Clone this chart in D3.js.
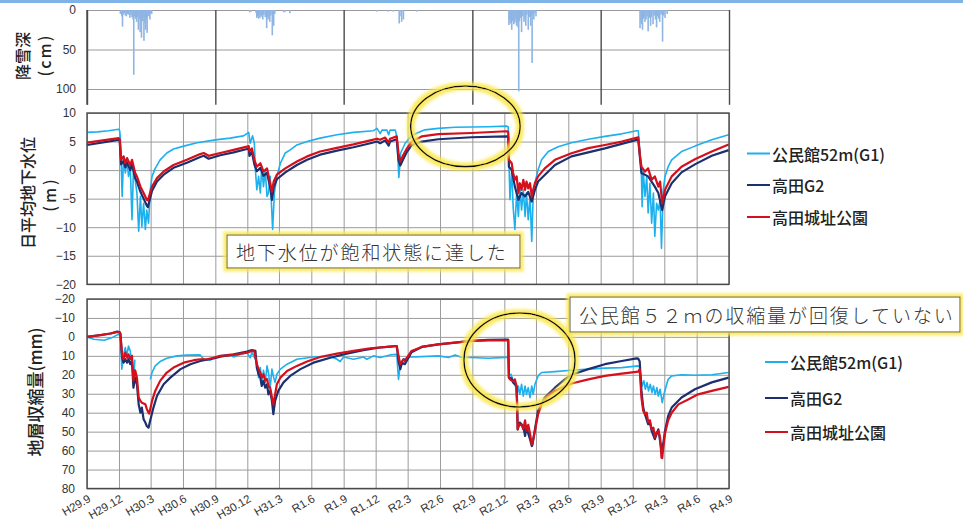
<!DOCTYPE html>
<html>
<head>
<meta charset="utf-8">
<script src="https://cdn.jsdelivr.net/npm/d3@7"></script>
<style>
  body { margin: 0; background: #fff; }
  svg { display: block; }
</style>
</head>
<body>
<svg id="chart" width="963" height="525"></svg>
<script>
// ---- data -------------------------------------------------------------
const xTickLabels = ["H29.9","H29.12","H30.3","H30.6","H30.9","H30.12","H31.3","R1.6","R1.9","R1.12",
  "R2.3","R2.6","R2.9","R2.12","R3.3","R3.6","R3.9","R3.12","R4.3","R4.6","R4.9"];
const seriesNames = ["公民館52m(G1)", "高田G2", "高田城址公園"];

// daily snowfall depth (cm), days with snow only
const snowDepth = [
  ["2017-12-05",5],["2017-12-07",3],["2017-12-09",8],["2017-12-11",21],["2017-12-13",6],["2017-12-16",4],
  ["2017-12-19",7],["2017-12-22",8],["2017-12-25",5],["2017-12-28",6],["2018-01-01",10],["2018-01-04",6],
  ["2018-01-07",9],["2018-01-10",12],["2018-01-12",82],["2018-01-14",8],["2018-01-17",11],["2018-01-20",15],
  ["2018-01-23",9],["2018-01-25",25],["2018-01-27",12],["2018-01-30",28],["2018-02-01",10],["2018-02-03",35],
  ["2018-02-06",14],["2018-02-08",9],["2018-02-10",39],["2018-02-12",16],["2018-02-15",25],["2018-02-17",11],
  ["2018-02-19",29],["2018-02-22",8],["2018-02-25",6],["2018-02-27",12],["2018-03-02",4],["2018-03-04",5],
  ["2018-12-08",3],["2018-12-12",2],["2018-12-26",4],["2018-12-28",10],["2018-12-30",8],["2019-01-02",11],
  ["2019-01-04",6],["2019-01-06",10],["2019-01-09",7],["2019-01-12",9],["2019-01-14",12],["2019-01-17",6],
  ["2019-01-21",9],["2019-01-25",23],["2019-01-27",8],["2019-01-29",12],["2019-02-01",9],["2019-02-03",15],
  ["2019-02-06",7],["2019-02-10",32],["2019-02-12",10],["2019-02-14",20],["2019-02-17",5],["2019-03-15",3],
  ["2019-03-20",2],["2019-04-01",4],
  ["2019-12-04",2],["2020-01-05",2],["2020-01-20",2],["2020-02-06",17],["2020-02-08",8],["2020-02-13",15],
  ["2020-02-18",12],["2020-03-27",2],
  ["2020-12-14",19],["2020-12-16",12],["2020-12-18",17],["2020-12-20",10],["2020-12-22",25],["2020-12-24",14],
  ["2020-12-26",9],["2020-12-28",18],["2020-12-31",16],["2021-01-03",12],["2021-01-05",20],["2021-01-07",15],
  ["2021-01-09",22],["2021-01-11",103],["2021-01-13",14],["2021-01-16",10],["2021-01-19",28],["2021-01-22",8],
  ["2021-01-26",15],["2021-01-29",11],["2021-01-31",20],["2021-02-03",6],["2021-02-07",25],["2021-02-10",9],
  ["2021-02-14",20],["2021-02-16",7],["2021-02-18",67],["2021-02-20",5],["2021-02-23",12],["2021-02-26",4],
  ["2021-03-01",8],
  ["2021-12-22",23],["2021-12-25",14],["2021-12-27",18],["2021-12-29",25],["2021-12-31",11],["2022-01-03",9],
  ["2022-01-05",15],["2022-01-08",12],["2022-01-11",8],["2022-01-14",27],["2022-01-17",10],["2022-01-21",20],
  ["2022-01-24",9],["2022-01-28",18],["2022-01-31",7],["2022-02-04",12],["2022-02-07",22],["2022-02-10",8],
  ["2022-02-13",11],["2022-02-16",15],["2022-02-20",6],["2022-02-24",40],["2022-02-27",7],["2022-03-03",10],
  ["2022-03-09",5]
];

// daily mean groundwater level (m)
const gwKominkan = [
  ["2017-09-01",6.6],["2017-10-01",6.7],["2017-11-01",6.9],["2017-11-30",7.15],["2017-12-03",6.9],["2017-12-05",5.6],
  ["2017-12-07",1.8],["2017-12-10",-4.6],["2017-12-14",2.4],["2017-12-19",-0.5],["2017-12-24",1.8],["2017-12-28",-1.1],
  ["2018-01-02",0.6],["2018-01-07",-8.7],["2018-01-11",0.0],["2018-01-16",-1.7],["2018-01-21",-4.0],["2018-01-26",-10.7],
  ["2018-01-31",-4.6],["2018-02-04",-9.9],["2018-02-09",-5.8],["2018-02-14",-10.4],["2018-02-18",-7.0],["2018-02-23",-9.3],
  ["2018-02-28",-3.45],["2018-03-05",-1.1],["2018-03-14",0.3],["2018-03-28",1.8],["2018-04-16",3.0],["2018-05-05",3.7],
  ["2018-06-03",4.2],["2018-07-11",4.8],["2018-09-01",5.3],["2018-10-13",5.6],["2018-11-20",6.0],["2018-12-05",6.6],
  ["2018-12-09",4.7],["2018-12-16",6.0],["2018-12-21",4.7],["2018-12-24",0.0],["2018-12-28",-3.45],["2019-01-02",-1.1],
  ["2019-01-07",-4.0],["2019-01-11",0.6],["2019-01-16",-2.9],["2019-01-21",0.0],["2019-01-26",-4.6],["2019-01-30",-4.0],
  ["2019-02-04",-1.1],["2019-02-11",-10.4],["2019-02-16",-4.0],["2019-02-23",-1.1],["2019-03-05",1.2],["2019-03-19",3.0],
  ["2019-04-02",3.55],["2019-04-21",4.4],["2019-05-20",5.0],["2019-06-26",5.6],["2019-08-13",6.2],["2019-09-29",6.6],
  ["2019-11-25",6.9],["2019-12-05",7.3],["2019-12-14",6.4],["2019-12-19",7.0],["2020-01-02",7.0],["2020-01-07",6.2],
  ["2020-01-11",7.0],["2020-01-26",7.0],["2020-01-30",5.9],["2020-02-05",-1.3],["2020-02-10",3.0],["2020-02-23",4.7],
  ["2020-03-12",6.0],["2020-03-31",6.6],["2020-04-19",7.05],["2020-05-27",7.3],["2020-07-14",7.5],["2020-10-16",7.6],
  ["2020-12-07",7.7],["2020-12-12",7.6],["2020-12-14",1.8],["2020-12-17",-5.2],["2020-12-22",0.05],["2020-12-26",-6.4],
  ["2020-12-31",-10.4],["2021-01-05",-4.0],["2021-01-10",-8.1],["2021-01-14",-2.9],["2021-01-19",-7.0],["2021-01-24",-3.45],
  ["2021-01-29",-8.1],["2021-02-02",-4.0],["2021-02-07",-8.7],["2021-02-12",-4.6],["2021-02-17",-12.5],["2021-02-21",-4.6],
  ["2021-02-26",-2.3],["2021-03-07",0.05],["2021-03-17",1.8],["2021-04-05",3.25],["2021-05-03",4.1],["2021-06-10",4.8],
  ["2021-07-28",5.4],["2021-09-13",5.9],["2021-10-31",6.35],["2021-12-12",6.9],["2021-12-17",6.9],["2021-12-21",3.55],
  ["2021-12-26",-1.1],["2021-12-28",-6.4],["2021-12-31",0.05],["2022-01-05",-4.6],["2022-01-10",-1.1],["2022-01-14",-7.5],
  ["2022-01-19",-2.3],["2022-01-24",-9.3],["2022-01-29",-4.0],["2022-02-02",-11.6],["2022-02-07",-5.8],["2022-02-12",-7.0],
  ["2022-02-17",-5.2],["2022-02-21",-13.7],["2022-02-26",-3.45],["2022-03-03",-1.1],["2022-03-12",0.6],["2022-03-22",1.8],
  ["2022-04-19",3.25],["2022-05-27",4.2],["2022-07-14",5.3],["2022-08-31",6.2]
];
const gwTakadaG2 = [
  ["2017-09-01",4.4],["2017-11-30",5.3],["2017-12-03",5.1],["2017-12-07",1.0],["2017-12-14",1.6],["2017-12-19",0.5],
  ["2017-12-24",1.3],["2018-01-02",0.0],["2018-01-07",1.0],["2018-01-16",-1.4],["2018-01-21",-2.0],["2018-01-31",-3.8],
  ["2018-02-09",-5.0],["2018-02-18",-6.2],["2018-02-21",-6.5],["2018-03-05",-3.6],["2018-03-19",-2.0],["2018-04-07",-0.8],
  ["2018-05-05",0.4],["2018-06-12",1.3],["2018-07-20",2.3],["2018-07-30",2.5],["2018-08-13",2.0],["2018-09-15",2.6],
  ["2018-10-23",3.1],["2018-11-30",3.7],["2018-12-05",3.8],["2018-12-07",2.5],["2018-12-14",3.2],["2018-12-21",1.0],
  ["2018-12-28",-0.2],["2019-01-07",0.4],["2019-01-16",-1.0],["2019-01-26",-0.5],["2019-02-04",-3.0],["2019-02-09",-5.2],
  ["2019-02-14",-3.0],["2019-02-23",-1.6],["2019-03-19",-0.4],["2019-04-21",0.9],["2019-05-20",1.8],["2019-06-26",2.7],
  ["2019-08-13",3.4],["2019-09-29",4.0],["2019-11-16",4.7],["2019-12-05",5.0],["2019-12-14",4.7],["2019-12-28",5.2],
  ["2020-01-07",4.3],["2020-01-11",5.0],["2020-01-30",5.4],["2020-02-04",1.8],["2020-02-09",0.8],["2020-02-18",2.0],
  ["2020-02-28",3.2],["2020-03-13",4.4],["2020-04-10",5.0],["2020-05-27",5.4],["2020-08-30",5.75],["2020-12-07",5.9],
  ["2020-12-12",5.85],["2020-12-14",0.6],["2020-12-22",0.05],["2020-12-31",-2.9],["2021-01-10",-5.2],["2021-01-19",-4.0],
  ["2021-01-29",-4.6],["2021-02-07",-3.8],["2021-02-17",-5.5],["2021-02-26",-3.45],["2021-03-07",-2.0],["2021-04-24",0.9],
  ["2021-06-10",2.4],["2021-09-13",3.8],["2021-12-12",5.3],["2021-12-17",5.2],["2021-12-26",-0.5],["2022-01-14",-1.1],
  ["2022-02-02",-2.9],["2022-02-12",-4.0],["2022-02-23",-7.0],["2022-03-03",-4.6],["2022-03-22",-2.3],["2022-04-19",-0.4],
  ["2022-05-27",1.0],["2022-07-14",2.5],["2022-08-31",3.5]
];
const gwCastlePark = [
  ["2017-09-01",4.8],["2017-11-30",5.6],["2017-12-03",5.4],["2017-12-07",1.8],["2017-12-14",2.4],["2017-12-19",1.2],
  ["2017-12-24",2.1],["2018-01-02",0.9],["2018-01-07",1.8],["2018-01-16",-0.5],["2018-01-21",-1.1],["2018-01-31",-2.9],
  ["2018-02-09",-4.0],["2018-02-18",-5.2],["2018-02-21",-5.3],["2018-03-05",-2.9],["2018-03-19",-1.4],["2018-04-07",-0.25],
  ["2018-05-05",0.9],["2018-06-12",1.8],["2018-07-20",2.8],["2018-07-30",3.0],["2018-08-13",2.5],["2018-09-15",3.0],
  ["2018-10-23",3.55],["2018-11-30",4.1],["2018-12-05",4.2],["2018-12-07",3.25],["2018-12-14",3.8],["2018-12-21",1.8],
  ["2018-12-28",0.6],["2019-01-07",1.2],["2019-01-16",-0.25],["2019-01-26",0.3],["2019-02-04",-2.3],["2019-02-09",-3.8],
  ["2019-02-14",-2.0],["2019-02-23",-0.8],["2019-03-19",0.3],["2019-04-21",1.5],["2019-05-20",2.4],["2019-06-26",3.25],
  ["2019-08-13",3.9],["2019-09-29",4.5],["2019-11-16",5.2],["2019-12-05",5.5],["2019-12-14",5.3],["2019-12-28",5.7],
  ["2020-01-07",4.8],["2020-01-11",5.5],["2020-01-30",5.9],["2020-02-04",2.96],["2020-02-09",1.5],["2020-02-18",2.7],
  ["2020-02-28",3.8],["2020-03-13",5.0],["2020-04-10",5.9],["2020-05-27",6.3],["2020-08-30",6.5],["2020-12-07",6.8],
  ["2020-12-12",6.7],["2020-12-14",1.8],["2020-12-22",1.2],["2020-12-26",-0.5],["2020-12-31",-1.7],["2021-01-05",-1.1],
  ["2021-01-10",-4.0],["2021-01-14",-2.3],["2021-01-19",-3.45],["2021-01-24",-1.7],["2021-01-29",-3.45],["2021-02-02",-2.0],
  ["2021-02-07",-3.2],["2021-02-12",-2.3],["2021-02-17",-4.6],["2021-02-21",-3.45],["2021-02-26",-2.3],["2021-03-07",-1.1],
  ["2021-03-26",0.3],["2021-04-24",1.8],["2021-06-10",2.96],["2021-07-28",3.84],["2021-09-13",4.4],["2021-10-31",5.0],
  ["2021-12-17",5.75],["2021-12-21",2.96],["2021-12-26",0.6],["2022-01-05",-0.25],["2022-01-14",0.3],["2022-01-24",-1.7],
  ["2022-02-02",-1.1],["2022-02-12",-2.9],["2022-02-17",-2.0],["2022-02-23",-5.8],["2022-03-03",-3.45],["2022-03-22",-1.1],
  ["2022-04-19",0.6],["2022-05-27",1.9],["2022-07-14",3.25],["2022-08-31",4.5]
];

// cumulative strata contraction (mm); null marks missing records
const subKominkan = [
  ["2017-09-01",0],["2017-09-20",1.2],["2017-10-20",1.8],["2017-11-10",0.5],["2017-12-01",-1.5],["2017-12-05",-0.5],
  ["2017-12-09",17],["2017-12-13",10],["2017-12-19",5.6],["2017-12-23",10],["2017-12-28",4.8],["2018-01-02",7.5],
  ["2018-01-07",14.4],["2018-01-12",23],["2018-01-15",12],["2018-01-20",null],
  ["2018-02-28",22.4],["2018-03-05",18.8],["2018-03-14",15.3],["2018-03-28",13],["2018-04-16",11.3],["2018-05-15",10],
  ["2018-06-12",9.6],["2018-07-20",9.5],["2018-07-30",11.8],["2018-08-18",12.3],["2018-08-27",11],["2018-09-15",10],
  ["2018-10-13",9.2],["2018-10-23",10.6],["2018-11-11",9.2],["2018-11-30",8.3],["2018-12-09",11],["2018-12-14",8.3],
  ["2018-12-24",11.8],["2018-12-28",14.4],["2019-01-02",21.5],["2019-01-07",16.2],["2019-01-11",25],["2019-01-16",17.6],
  ["2019-01-21",24],["2019-01-26",15.3],["2019-01-30",18.8],["2019-02-04",26.8],["2019-02-09",17],["2019-02-14",21.5],
  ["2019-02-18",24],["2019-02-23",19.7],["2019-03-05",17],["2019-03-24",14.4],["2019-04-21",11.8],["2019-06-07",10.6],
  ["2019-07-25",10.2],["2019-08-13",11.8],["2019-08-22",13],["2019-09-01",10.6],["2019-09-29",11.8],["2019-10-27",10.6],
  ["2019-11-06",11.8],["2019-11-25",10],["2019-12-14",10.9],["2020-01-11",9.5],["2020-01-30",9.2],["2020-02-04",22.4],
  ["2020-02-09",14.4],["2020-02-18",11.8],["2020-03-08",10.6],["2020-03-21",10.6],["2020-05-27",10],["2020-06-25",10.9],
  ["2020-07-14",9.5],["2020-08-02",10.9],["2020-08-30",10.9],["2020-10-16",11.3],["2020-12-07",10.8],["2020-12-12",10.8],
  ["2020-12-14",21.5],["2020-12-20",19.7],["2020-12-26",23.2],["2020-12-31",22.4],["2021-01-05",32],["2021-01-10",26],
  ["2021-01-14",30.3],["2021-01-19",25],["2021-01-24",31.2],["2021-01-29",25.9],["2021-02-02",30.3],["2021-02-07",26.8],
  ["2021-02-12",32],["2021-02-17",25.9],["2021-02-21",30.3],["2021-02-26",25],["2021-03-07",20.6],["2021-03-17",18.8],
  ["2021-04-24",18.3],["2021-06-10",17.6],["2021-07-28",17],["2021-09-13",16.5],["2021-10-31",16.2],["2021-12-17",15.3],
  ["2021-12-21",16.2],["2021-12-28",25.9],["2022-01-02",23.2],["2022-01-06",27.6],["2022-01-11",24.1],["2022-01-15",28.5],
  ["2022-01-20",25],["2022-01-25",29.4],["2022-01-29",25.9],["2022-02-03",30.3],["2022-02-08",26.8],["2022-02-12",31.2],
  ["2022-02-17",27.6],["2022-02-23",34.7],["2022-02-28",30.3],["2022-03-05",26.8],["2022-03-12",22.4],["2022-03-22",20.6],
  ["2022-04-19",20],["2022-05-27",20.2],["2022-07-14",20],["2022-08-31",18.8]
];
const subTakadaG2 = [
  ["2017-09-01",0],["2017-10-10",-1.0],["2017-11-07",-1.8],["2017-11-26",-2.8],["2017-12-03",-2.5],["2017-12-05",-1.8],
  ["2017-12-10",11],["2017-12-14",13.6],["2017-12-19",11.8],["2017-12-24",13.6],["2017-12-28",11.8],["2018-01-02",14.4],
  ["2018-01-07",12.7],["2018-01-11",26.8],["2018-01-16",21.5],["2018-01-21",25],["2018-01-26",35.6],["2018-01-31",40],
  ["2018-02-04",37.3],["2018-02-09",43.5],["2018-02-14",45.2],["2018-02-18",47],["2018-02-23",47.9],["2018-02-28",44],
  ["2018-03-09",37.3],["2018-03-19",31.2],["2018-04-07",25],["2018-04-26",21.5],["2018-05-25",17],["2018-06-22",14.4],
  ["2018-07-20",12.7],["2018-08-27",11.4],["2018-09-15",10.4],["2018-10-23",9.2],["2018-11-30",7.7],["2018-12-14",7],
  ["2018-12-24",7.4],["2018-12-28",16.2],["2019-01-02",19.7],["2019-01-07",21.5],["2019-01-11",25.9],["2019-01-16",23.2],
  ["2019-01-21",26.8],["2019-01-26",25],["2019-01-30",30.3],["2019-02-04",28.5],["2019-02-09",33.8],["2019-02-13",40.8],
  ["2019-02-18",33.8],["2019-02-27",28.5],["2019-03-14",24],["2019-04-02",20.6],["2019-05-01",17],["2019-06-07",13.6],
  ["2019-07-25",11],["2019-09-10",8.8],["2019-10-27",7],["2019-12-14",5.6],["2020-01-11",5.1],["2020-01-30",4.8],
  ["2020-02-04",12.7],["2020-02-09",17],["2020-02-14",13.6],["2020-02-22",14.4],["2020-03-12",8.1],["2020-04-10",5.3],
  ["2020-05-27",3.9],["2020-08-30",2.1],["2020-10-16",1.6],["2020-12-07",1.4],["2020-12-12",1.4],["2020-12-14",21.5],
  ["2020-12-22",22],["2020-12-26",24.1],["2021-01-05",26],["2021-01-08",48.8],["2021-01-14",45.2],["2021-01-24",47],
  ["2021-01-29",52.3],["2021-02-02",47.9],["2021-02-12",54],["2021-02-17",57.6],["2021-02-19",57],["2021-02-26",48.8],
  ["2021-03-07",39],["2021-03-26",32],["2021-04-24",26.8],["2021-05-22",22.4],["2021-06-10",20],["2021-07-28",17],
  ["2021-09-13",14.4],["2021-10-31",12.7],["2021-12-12",11.3],["2021-12-17",11.5],["2021-12-21",13],["2021-12-26",28.5],
  ["2021-12-31",37.3],["2022-01-05",40.8],["2022-01-14",46.1],["2022-01-19",45.2],["2022-01-24",49.6],["2022-02-02",54],
  ["2022-02-12",48.8],["2022-02-17",55],["2022-02-21",60],["2022-02-26",56.3],["2022-03-03",49.6],["2022-03-12",41.7],
  ["2022-03-22",37.3],["2022-04-19",32],["2022-05-27",27.6],["2022-07-14",24],["2022-08-31",21.5]
];
const subCastlePark = [
  ["2017-09-01",0],["2017-10-10",-0.9],["2017-11-07",-1.8],["2017-11-26",-2.6],["2017-12-03",-2.4],["2017-12-05",-1.4],
  ["2017-12-10",10],["2017-12-14",11.8],["2017-12-19",8.3],["2017-12-24",11],["2017-12-28",9.2],["2018-01-02",11.8],
  ["2018-01-07",10],["2018-01-11",23],["2018-01-16",17.6],["2018-01-21",21.5],["2018-01-26",32],["2018-01-31",33.8],
  ["2018-02-04",34.7],["2018-02-14",35.6],["2018-02-18",38],["2018-02-23",40],["2018-02-25",40.5],["2018-03-05",33.8],
  ["2018-03-14",28.5],["2018-03-28",23.2],["2018-04-16",18.8],["2018-05-05",16.2],["2018-06-03",13.6],["2018-07-02",12.3],
  ["2018-07-20",11.8],["2018-08-08",11.8],["2018-08-27",11],["2018-09-15",10],["2018-10-23",9.5],["2018-11-30",8.3],
  ["2018-12-14",7.4],["2018-12-21",7.7],["2018-12-28",14.4],["2019-01-02",16.9],["2019-01-07",18.8],["2019-01-11",21.5],
  ["2019-01-16",19.7],["2019-01-21",23],["2019-01-26",22.2],["2019-01-30",26],["2019-02-04",26.8],["2019-02-09",32],
  ["2019-02-13",35.6],["2019-02-18",30.3],["2019-02-23",25],["2019-03-05",21.5],["2019-03-24",18],["2019-04-21",15.3],
  ["2019-05-20",13],["2019-06-26",10.6],["2019-08-13",8.8],["2019-09-29",7.4],["2019-11-16",6],["2020-01-02",5.3],
  ["2020-01-30",4.8],["2020-02-04",10],["2020-02-09",14.4],["2020-02-18",11.8],["2020-02-22",12.7],["2020-03-12",7.4],
  ["2020-04-10",5.3],["2020-05-27",3.9],["2020-07-14",3],["2020-08-30",2.1],["2020-10-16",1.8],["2020-12-07",1.8],
  ["2020-12-12",1.8],["2020-12-14",21.5],["2020-12-17",22.4],["2020-12-26",23.5],["2020-12-31",22.5],["2021-01-05",26],
  ["2021-01-08",48.8],["2021-01-10",46],["2021-01-19",46.4],["2021-01-24",48.8],["2021-01-29",44],["2021-02-02",49.6],
  ["2021-02-07",46.4],["2021-02-12",51],["2021-02-17",56.7],["2021-02-19",56],["2021-02-26",49.6],["2021-03-07",40.8],
  ["2021-03-17",35.6],["2021-04-05",31],["2021-04-24",28.5],["2021-05-13",26.8],["2021-06-10",24.6],["2021-07-28",22.4],
  ["2021-09-13",20.6],["2021-10-31",19.4],["2021-12-17",18.3],["2021-12-21",17],["2021-12-26",32],["2021-12-31",39],
  ["2022-01-05",40.8],["2022-01-10",40],["2022-01-14",45],["2022-01-19",44],["2022-01-24",48.8],["2022-01-29",47.9],
  ["2022-02-02",53],["2022-02-07",50.4],["2022-02-12",49.6],["2022-02-17",53],["2022-02-21",63.7],["2022-02-23",64],
  ["2022-02-26",58.5],["2022-03-03",51],["2022-03-12",44],["2022-03-22",40],["2022-04-10",35.6],["2022-05-08",33],
  ["2022-06-05",30.3],["2022-07-14",28.5],["2022-08-31",26.4]
];

// ---- layout ------------------------------------------------------------
const W = 963, H = 525;
const L = 87, R = 729;
const snowBox = { top: 10, bottom: 104.8 };
const gwBox = { top: 113, bottom: 284.3 };
const subBox = { top: 299, bottom: 488.5 };
const colors = ["#1cb0ef", "#1c2f6e", "#d3101c"];
const widths = [1.6, 2.2, 2.2];
const jpFont = "'Noto Sans CJK JP', 'Noto Sans', sans-serif";
const numFont = "'Liberation Sans', Arial, sans-serif";

const parse = d3.timeParse("%Y-%m-%d");
const start = parse("2017-09-01"), end = parse("2022-09-01");
const x = d3.scaleTime().domain([start, end]).range([L, R]);
const tickDates = d3.timeMonth.range(start, d3.timeDay.offset(end, 1), 3);
const yearDates = d3.timeMonth.range(start, d3.timeDay.offset(end, 1), 12);

const ySnow = d3.scaleLinear().domain([0, 120]).range([snowBox.top, snowBox.bottom]);
const yGw = d3.scaleLinear().domain([-20, 10]).range([gwBox.bottom, gwBox.top]);
const ySub = d3.scaleLinear().domain([-20, 80]).range([subBox.top, subBox.bottom]);

const svg = d3.select("#chart");
const defs = svg.append("defs");
const glow = defs.append("filter").attr("id", "glow")
  .attr("x", "-20%").attr("y", "-60%").attr("width", "140%").attr("height", "220%");
glow.append("feMorphology").attr("in", "SourceAlpha").attr("operator", "dilate").attr("radius", 2.5).attr("result", "dil");
glow.append("feGaussianBlur").attr("in", "dil").attr("stdDeviation", 1.8).attr("result", "blur");
glow.append("feFlood").attr("flood-color", "#fbe74a").attr("flood-opacity", 0.85);
glow.append("feComposite").attr("in2", "blur").attr("operator", "in").attr("result", "halo");
const merge = glow.append("feMerge");
merge.append("feMergeNode").attr("in", "halo");
merge.append("feMergeNode").attr("in", "SourceGraphic");

svg.append("rect").attr("x", 0).attr("y", 0).attr("width", W).attr("height", 3).attr("fill", "#7db3e6");

function hGrid(g, y, values) {
  const a = g.append("g").attr("transform", `translate(${L},0)`)
    .call(d3.axisLeft(y).tickValues(values).tickSize(-(R - L)).tickFormat(""));
  a.select(".domain").remove();
  a.selectAll("line").attr("stroke", "#9b9b9b").attr("stroke-width", 1);
}
function vGrid(g, box, dates, color, w) {
  const a = g.append("g").attr("transform", `translate(0,${box.bottom})`)
    .call(d3.axisBottom(x).tickValues(dates).tickSize(-(box.bottom - box.top)).tickFormat(""));
  a.select(".domain").remove();
  a.selectAll("line").attr("stroke", color).attr("stroke-width", w);
}
function yLabels(g, y, values, pad) {
  const a = g.append("g").attr("transform", `translate(${L},0)`)
    .call(d3.axisLeft(y).tickValues(values).tickSize(0).tickPadding(pad));
  a.select(".domain").remove();
  a.selectAll("text").attr("font-family", numFont).attr("font-size", 12).attr("fill", "#333");
}

// ---- snowfall panel ----------------------------------------------------
const gSnow = svg.append("g");
hGrid(gSnow, ySnow, [0, 50, 100]);
vGrid(gSnow, snowBox, yearDates, "#4a4a4a", 1.4);
gSnow.append("line").attr("x1", L).attr("x2", L).attr("y1", snowBox.top).attr("y2", snowBox.bottom)
  .attr("stroke", "#4a4a4a").attr("stroke-width", 1.4);
gSnow.append("g").selectAll("rect").data(snowDepth).join("rect")
  .attr("x", d => x(parse(d[0])) - 0.8)
  .attr("width", 1.6)
  .attr("y", ySnow(0))
  .attr("height", d => ySnow(d[1]) - ySnow(0))
  .attr("fill", "#8fb5e3");
yLabels(gSnow, ySnow, [0, 50, 100], 11);

// ---- groundwater & contraction panels ----------------------------------
function linePanel(box, y, yTicks, series, pad) {
  const g = svg.append("g");
  hGrid(g, y, yTicks);
  vGrid(g, box, tickDates, "#9b9b9b", 1);
  const line = d3.line()
    .defined(d => d[1] !== null)
    .x(d => x(parse(d[0])))
    .y(d => y(d[1]));
  series.forEach((s, i) => {
    g.append("path").datum(s).attr("d", line)
      .attr("fill", "none").attr("stroke", colors[i]).attr("stroke-width", widths[i])
      .attr("stroke-linejoin", "round");
  });
  g.append("rect").attr("x", L).attr("y", box.top).attr("width", R - L).attr("height", box.bottom - box.top)
    .attr("fill", "none").attr("stroke", "#4a4a4a").attr("stroke-width", 1.4);
  yLabels(g, y, yTicks, pad);
  return g;
}
linePanel(gwBox, yGw, d3.range(-20, 10.1, 5), [gwKominkan, gwTakadaG2, gwCastlePark], 11);
linePanel(subBox, ySub, d3.range(-20, 80.1, 10), [subKominkan, subTakadaG2, subCastlePark], 12);

// shared date labels
const xAxis = svg.append("g").attr("transform", `translate(0,${subBox.bottom})`)
  .call(d3.axisBottom(x).tickValues(tickDates).tickSize(0).tickFormat((d, i) => xTickLabels[i]));
xAxis.select(".domain").remove();
xAxis.selectAll("text")
  .attr("font-family", numFont).attr("font-size", 11.5).attr("fill", "#333")
  .attr("text-anchor", "end")
  .attr("transform", "translate(2,9) rotate(-30)")
  .attr("y", 0).attr("dy", "0.35em");

// ---- axis titles -------------------------------------------------------
function vTitle(text, cx, cy, size, spacing) {
  svg.append("text").attr("transform", `translate(${cx},${cy}) rotate(-90)`)
    .attr("text-anchor", "middle").attr("dominant-baseline", "central")
    .attr("font-family", jpFont).attr("font-size", size).attr("font-weight", 500)
    .attr("letter-spacing", spacing || 0).attr("fill", "#222").text(text);
}
vTitle("降雪深", 22, 56, 16);
vTitle("(cm)", 44, 55, 16, 2);
vTitle("日平均地下水位", 27, 193, 16);
vTitle("(m)", 49, 194, 16, 3);
vTitle("地層収縮量(mm)", 34, 392, 17);

// ---- legends -----------------------------------------------------------
function legend(x0, ys) {
  const g = svg.append("g");
  seriesNames.forEach((name, i) => {
    g.append("line").attr("x1", x0).attr("x2", x0 + 23).attr("y1", ys[i]).attr("y2", ys[i])
      .attr("stroke", colors[i]).attr("stroke-width", 2);
    g.append("text").attr("x", x0 + 25).attr("y", ys[i]).attr("dominant-baseline", "central")
      .attr("font-family", jpFont).attr("font-size", 16).attr("font-weight", 500).attr("fill", "#222")
      .text(name);
  });
}
legend(747, [153.5, 185, 217]);
legend(765, [362, 398, 432]);

// ---- annotations -------------------------------------------------------
function ring(cx, cy, rx, ry) {
  svg.append("ellipse").attr("cx", cx).attr("cy", cy).attr("rx", rx).attr("ry", ry)
    .attr("fill", "none").attr("stroke", "#111").attr("stroke-width", 1.6).attr("filter", "url(#glow)");
}
ring(465.4, 126.3, 54.7, 40.3);
ring(519.5, 360, 55.5, 47);

function callout(x0, y0, w, h, text) {
  const g = svg.append("g");
  g.append("rect").attr("x", x0).attr("y", y0).attr("width", w).attr("height", h)
    .attr("fill", "#fff").attr("stroke", "#555").attr("stroke-width", 1).attr("filter", "url(#glow)");
  g.append("text").attr("x", x0 + 9).attr("y", y0 + h / 2).attr("dominant-baseline", "central")
    .attr("font-family", jpFont).attr("font-size", 19).attr("font-weight", 300)
    .attr("letter-spacing", 1.9).attr("fill", "#333").text(text);
}
callout(227, 235, 293, 33, "地下水位が飽和状態に達した");
callout(570, 297, 390, 35, "公民館５２ｍの収縮量が回復していない");
</script>
</body>
</html>
